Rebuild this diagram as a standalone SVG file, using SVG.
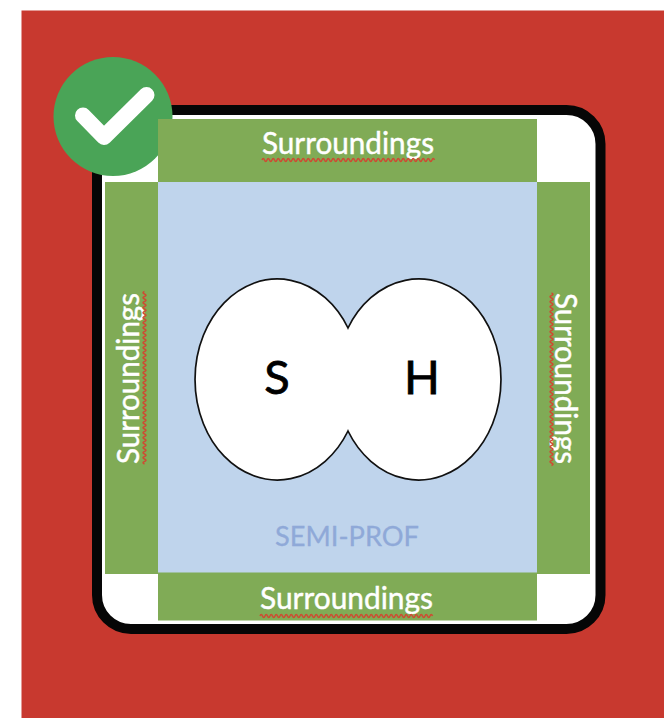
<svg xmlns="http://www.w3.org/2000/svg" width="664" height="718" viewBox="0 0 664 718">
<style>
.g{fill:#80ab56}
.t{font-family:Lato,"Liberation Sans",sans-serif;font-size:31px;fill:#fff;stroke:#fff;stroke-width:.45}
.b{font-family:Lato,"Liberation Sans",sans-serif;font-size:47px;fill:#000;stroke:#000;stroke-width:.8;text-anchor:middle}
.w{fill:none;stroke:#cf4a32;stroke-width:1.5}
</style>
<defs>
<path id="squig" d="M0 0q1.25 -3 2.5 0t2.5 0 2.5 0 2.5 0 2.5 0 2.5 0 2.5 0 2.5 0 2.5 0 2.5 0 2.5 0 2.5 0 2.5 0 2.5 0 2.5 0 2.5 0 2.5 0 2.5 0 2.5 0 2.5 0 2.5 0 2.5 0 2.5 0 2.5 0 2.5 0 2.5 0 2.5 0 2.5 0 2.5 0 2.5 0 2.5 0 2.5 0 2.5 0 2.5 0 2.5 0 2.5 0 2.5 0 2.5 0 2.5 0 2.5 0 2.5 0 2.5 0 2.5 0 2.5 0 2.5 0 2.5 0 2.5 0 2.5 0 2.5 0 2.5 0 2.5 0 2.5 0 2.5 0 2.5 0 2.5 0 2.5 0 2.5 0 2.5 0 2.5 0 2.5 0 2.5 0 2.5 0 2.5 0 2.5 0 2.5 0 2.5 0 2.5 0 2.5 0 2.5 0"/>
</defs>
<rect width="664" height="718" fill="#fff"/>
<rect x="21.5" y="10.5" width="642.5" height="707.5" fill="#c8392f"/>
<g id="frame"><rect x="97" y="110" width="503.500" height="519" rx="34" fill="#fff" stroke="#060606" stroke-width="10"/></g>
<g id="check">
<circle cx="113" cy="116.5" r="59.5" fill="#4aa457"/>
<path d="M83 115.500L104 137L146.500 95" fill="none" stroke="#fff" stroke-width="16" stroke-linecap="round" stroke-linejoin="round"/>
</g>
<g id="semi-prof">
<rect x="158" y="182" width="379" height="391" fill="#bfd4ec"/>
<text x="347" y="546" font-family="Lato,'Liberation Sans',sans-serif" font-size="27" fill="#8fa9d8" stroke="#8fa9d8" stroke-width=".3" text-anchor="middle" textLength="144" lengthAdjust="spacingAndGlyphs">SEMI-PROF</text>
</g>
<g id="surroundings-top">
<rect class="g" x="158" y="119" width="379" height="63"/>
<text class="t" x="262" y="154" textLength="172" lengthAdjust="spacingAndGlyphs">Surroundings</text>
<use href="#squig" class="w" transform="translate(262 160)"/>
</g>
<g id="surroundings-left">
<rect class="g" x="105" y="182" width="53" height="392"/>
<text class="t" transform="translate(139 464) rotate(-90)" textLength="171" lengthAdjust="spacingAndGlyphs">Surroundings</text>
<use href="#squig" class="w" transform="translate(144.500 464) rotate(-90)"/>
</g>
<g id="surroundings-right">
<rect class="g" x="537" y="182" width="53" height="392"/>
<text class="t" transform="translate(555 293) rotate(90)" textLength="171" lengthAdjust="spacingAndGlyphs">Surroundings</text>
<use href="#squig" class="w" transform="translate(551.500 293) rotate(90)"/>
</g>
<g id="surroundings-bottom">
<rect class="g" x="158" y="572.500" width="379" height="48"/>
<text class="t" x="260" y="609" textLength="173" lengthAdjust="spacingAndGlyphs">Surroundings</text>
<use href="#squig" class="w" transform="translate(260 616)"/>
</g>
<g id="sh">
<path d="M348 328A82.300 100.500 0 1 0 348 431A82.300 100.500 0 1 0 348 328Z" fill="#fff" stroke="#111" stroke-width="1.700"/>
<text class="b" x="277" y="394">S</text>
<text class="b" x="422" y="394">H</text>
</g>
</svg>
